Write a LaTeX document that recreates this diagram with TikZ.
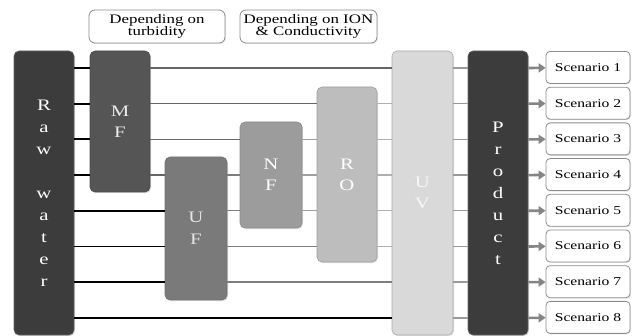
\documentclass[tikz,border=0pt]{standalone}
\usepackage{fontspec}
\setmainfont{Liberation Serif}[FakeStretch=1.3]
\usetikzlibrary{arrows.meta,shadows}

\definecolor{rawfill}{HTML}{3C3C3C}
\definecolor{mffill}{HTML}{555555}
\definecolor{uffill}{HTML}{7A7A7A}
\definecolor{nffill}{HTML}{9C9C9C}
\definecolor{rofill}{HTML}{BDBDBD}
\definecolor{uvfill}{HTML}{D9D9D9}
\definecolor{wiremf}{HTML}{666666}
\definecolor{wireuf}{HTML}{7E7E7E}
\definecolor{wirenf}{HTML}{A0A0A0}
\definecolor{wirero}{HTML}{B0B0B0}
\definecolor{wireuv}{HTML}{9A9A9A}
\definecolor{arrowgray}{HTML}{858585}

\begin{document}
\begin{tikzpicture}[x=1pt,y=-1pt,
  stage/.style={rectangle,rounded corners=5pt,minimum width=60pt,inner sep=0pt,
    align=center,line width=0.6pt,font={\fontsize{16}{21}\selectfont},
    drop shadow={shadow xshift=1pt,shadow yshift=-1.2pt,opacity=0.25}},
  tall/.style={font={\fontsize{16}{22}\selectfont}},
  scen/.style={rectangle,rounded corners=4pt,draw=black!45,fill=white,line width=0.8pt,
    minimum width=84pt,minimum height=32pt,inner sep=0pt,font={\fontsize{12}{12}\selectfont},
    drop shadow={shadow xshift=1pt,shadow yshift=-1pt,opacity=0.2}},
  note/.style={rectangle,rounded corners=6pt,draw=black!45,fill=white,line width=0.8pt,
    minimum height=33pt,inner sep=0pt,align=center,font={\fontsize{13}{12.6}\selectfont},
    drop shadow={shadow xshift=1pt,shadow yshift=-1pt,opacity=0.2}},
  wire/.style={line width=1.4pt},
  rawwire/.style={line width=1.9pt,black},
  outarrow/.style={line width=2.6pt,arrowgray,-{Triangle[length=7pt,width=9pt]}}]
  \useasboundingbox (0,0) rectangle (634,336);

  % rows
  \foreach \i in {1,...,8}
    \coordinate (r\i) at (0,{68+35.7*(\i-1)});

  % stages
  \node[stage,tall,fill=rawfill,draw=black!60,text=white,minimum height=284pt] (raw) at (44,193)
    {R\\a\\w\\[22pt]w\\a\\t\\e\\r};
  \node[stage,fill=mffill,draw=black!70,text=black!8,minimum height=141pt] (mf) at (120,121.5)
    {M\\F};
  \node[stage,tall,fill=uffill,draw=black!55,text=black!10,minimum width=62pt,minimum height=143pt] (uf) at (196,228.5)
    {U\\F};
  \node[stage,fill=nffill,draw=black!45,text=white,minimum width=62pt,minimum height=106pt] (nf) at (271,175)
    {N\\F};
  \node[stage,fill=rofill,draw=black!38,text=white,minimum height=175pt] (ro) at (347,174.5)
    {R\\O};
  \node[stage,fill=uvfill,draw=black!33,text=black!3,minimum width=61pt,minimum height=284pt] (uv) at (422.5,193)
    {U\\V};
  \node[stage,tall,fill=rawfill,draw=black!60,text=white,minimum height=284pt] (prod) at (498,193)
    {P\\r\\o\\d\\u\\c\\t};

  % notes
  \node[note,minimum width=136pt] (turb) at (157,26.5) {Depending on\\turbidity};
  \node[note,minimum width=137pt] (ion) at (308.5,26.5) {Depending on ION\\\& Conductivity};

  % scenarios
  \foreach \i in {1,...,8}
    \node[scen] (s\i) at (588,{67.5+35.7*(\i-1)}) {Scenario \i};

  % wires
  \foreach \b/\i in {mf/1,mf/2,mf/3,mf/4,uf/5,uf/6,uf/7,uv/8}
    \draw[rawwire] (raw.east |- r\i) -- (\b.west |- r\i);
  \foreach \a/\b/\i in {mf/uv/1,mf/ro/2,mf/nf/3,mf/uf/4,
      uf/nf/4,uf/nf/5,uf/ro/6,uf/uv/7,
      nf/ro/3,nf/ro/4,nf/ro/5,
      ro/uv/2,ro/uv/3,ro/uv/4,ro/uv/5,ro/uv/6}
    \draw[wire,draw=wire\a] (\a.east |- r\i) -- (\b.west |- r\i);
  \foreach \i in {1,...,8} {
    \draw[wire,draw=wireuv] (uv.east |- r\i) -- (prod.west |- r\i);
    \draw[outarrow] (prod.east |- r\i) -- (s\i);
  }
\end{tikzpicture}
\end{document}
